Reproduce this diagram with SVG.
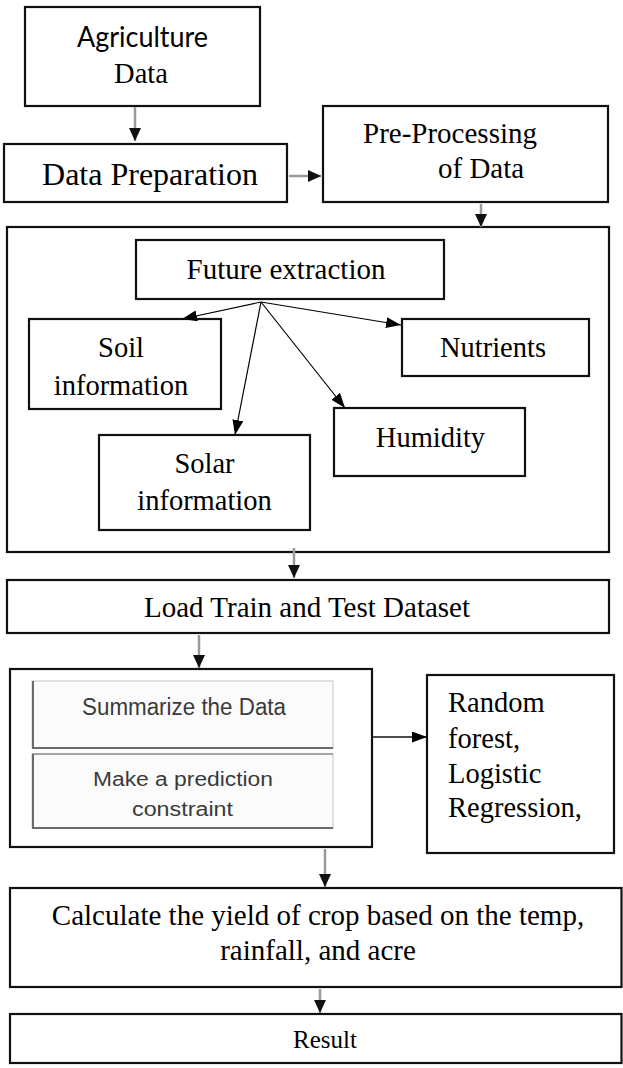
<svg xmlns="http://www.w3.org/2000/svg" width="623" height="1068" viewBox="0 0 623 1068">
<style>
.box{fill:#fff;stroke:#111;stroke-width:2.2}
.frame{fill:none;stroke:#111;stroke-width:2.2}
.t{font-family:"Liberation Serif","Times New Roman",serif;font-size:28.5px;fill:#000}
.c{text-anchor:middle}
.s{font-family:"Liberation Sans",Arial,sans-serif;fill:#3a3a3a;text-anchor:middle}
.flow{stroke:#9a9a9a;stroke-width:2.5;fill:none}
.thin{stroke:#000;stroke-width:1.2;fill:none}
.inner{fill:#fbfbfb;stroke:#c4c4c4;stroke-width:1}
.edge{stroke:#6a6a6a;stroke-width:2;fill:none}
</style>
<defs>
<marker id="big" markerUnits="userSpaceOnUse" markerWidth="14" markerHeight="14" refX="13" refY="6" orient="auto">
<path d="M0,0 L13,6 L0,12 z" fill="#111"/>
</marker>
<marker id="sm" markerUnits="userSpaceOnUse" markerWidth="16" markerHeight="12" refX="15" refY="5.5" orient="auto">
<path d="M0,0 L15,5.5 L0,11 z" fill="#000"/>
</marker>
</defs>

<g id="feature-container">
<rect class="box" x="7" y="227" width="602" height="325"/>
</g>

<g id="agriculture-data">
<rect class="box" x="25" y="7" width="235" height="99"/>
<text x="142.5" y="47" class="c" font-family="Lato,'Noto Sans',sans-serif" font-size="28" textLength="131" lengthAdjust="spacingAndGlyphs">Agriculture</text>
<text x="141" y="83" class="t c">Data</text>
</g>

<g id="data-preparation">
<rect class="box" x="4" y="144" width="283" height="58"/>
<text x="150" y="185" class="t c" style="font-size:32px">Data Preparation</text>
</g>

<g id="pre-processing">
<rect class="box" x="323" y="106" width="285" height="96"/>
<text x="363" y="143" class="t" style="font-size:29px">Pre-Processing</text>
<text x="438" y="178" class="t" style="font-size:29px">of Data</text>
</g>

<g id="future-extraction">
<rect class="box" x="136" y="240" width="308" height="59"/>
<text x="286" y="279" class="t c" style="font-size:29px">Future extraction</text>
</g>

<g id="soil-information">
<rect class="box" x="29" y="319" width="192" height="90"/>
<text x="121" y="357" class="t c">Soil</text>
<text x="121" y="395" class="t c">information</text>
</g>

<g id="nutrients">
<rect class="box" x="402" y="319" width="187" height="57"/>
<text x="493" y="357" class="t c">Nutrients</text>
</g>

<g id="humidity">
<rect class="box" x="334" y="408" width="191" height="68"/>
<text x="430.5" y="447" class="t c">Humidity</text>
</g>

<g id="solar-information">
<rect class="box" x="99" y="435" width="211" height="95"/>
<text x="204.5" y="473" class="t c">Solar</text>
<text x="204.5" y="510" class="t c">information</text>
</g>

<g id="load-dataset">
<rect class="box" x="7" y="580" width="602" height="53"/>
<text x="307" y="617" class="t c" style="font-size:29px">Load Train and Test Dataset</text>
</g>

<g id="model-box">
<rect class="box" x="10" y="669" width="362" height="178"/>
<rect class="inner" x="32" y="681" width="301" height="67"/>
<path class="edge" d="M33,681 V748 H333"/>
<text x="184" y="715" class="s" font-size="23" textLength="204" lengthAdjust="spacingAndGlyphs">Summarize the Data</text>
<rect class="inner" x="32" y="754" width="301" height="74"/>
<path class="edge" d="M33,754 V828 H333"/>
<path d="M32,754 H333" stroke="#6a6a6a" stroke-width="1.2"/>
<text x="183" y="786" class="s" font-size="20" textLength="180" lengthAdjust="spacingAndGlyphs">Make a prediction</text>
<text x="182.5" y="816" class="s" font-size="20" textLength="101" lengthAdjust="spacingAndGlyphs">constraint</text>
</g>

<g id="algorithms">
<rect class="box" x="427" y="675" width="187" height="178"/>
<text x="448" y="712" class="t">Random</text>
<text x="448" y="748" class="t">forest,</text>
<text x="448" y="783" class="t">Logistic</text>
<text x="448" y="817" class="t">Regression,</text>
</g>

<g id="calculate-yield">
<rect class="box" x="10" y="888" width="611.5" height="99"/>
<text x="318" y="925" class="t c" style="font-size:29px">Calculate the yield of crop based on the temp,</text>
<text x="318" y="960" class="t c" style="font-size:29px">rainfall, and acre</text>
</g>

<g id="result">
<rect class="box" x="10" y="1014" width="611.5" height="49"/>
<text x="325" y="1048" class="t c" style="font-size:25px">Result</text>
</g>

<g id="connectors">
<line class="flow" x1="135" y1="107" x2="135" y2="141" marker-end="url(#big)"/>
<line class="flow" x1="289" y1="176" x2="321" y2="176" marker-end="url(#big)"/>
<line class="flow" x1="481" y1="204" x2="481" y2="227" marker-end="url(#big)"/>
<line class="thin" x1="261" y1="302" x2="182" y2="319" marker-end="url(#sm)"/>
<line class="thin" x1="261" y1="302" x2="401" y2="325" marker-end="url(#sm)"/>
<line class="thin" x1="261" y1="302" x2="345" y2="408" marker-end="url(#sm)"/>
<line class="thin" x1="261" y1="302" x2="235" y2="435" marker-end="url(#sm)"/>
<line class="flow" x1="294" y1="548" x2="294" y2="578" marker-end="url(#big)"/>
<line class="flow" x1="199" y1="635" x2="199" y2="668" marker-end="url(#big)"/>
<line x1="373" y1="737" x2="427" y2="737" stroke="#111" stroke-width="1.6" marker-end="url(#sm)"/>
<line class="flow" x1="325" y1="849" x2="325" y2="887" marker-end="url(#big)"/>
<line class="flow" x1="320" y1="989" x2="320" y2="1013" marker-end="url(#big)"/>
</g>
</svg>
